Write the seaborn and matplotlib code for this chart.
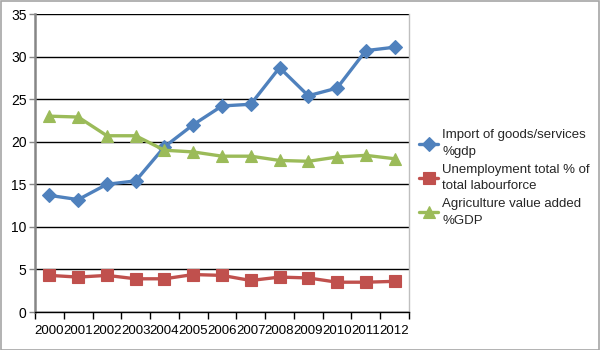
import matplotlib
matplotlib.use("Agg")
import matplotlib.pyplot as plt
import seaborn as sns
import pandas as pd
import numpy as np

years = ["2000", "2001", "2002", "2003", "2004", "2005", "2006", "2007",
         "2008", "2009", "2010", "2011", "2012"]
imports = [13.7, 13.2, 15.0, 15.4, 19.4, 22.0, 24.2, 24.4, 28.7, 25.4, 26.3, 30.7, 31.1]
unemployment = [4.3, 4.1, 4.3, 3.9, 3.9, 4.4, 4.3, 3.7, 4.1, 4.0, 3.5, 3.5, 3.6]
agriculture = [23.0, 22.9, 20.7, 20.7, 19.0, 18.8, 18.3, 18.3, 17.8, 17.7, 18.2, 18.4, 18.0]

series_names = ["Import of goods/services\n%gdp",
                "Unemployment total % of\ntotal labourforce",
                "Agriculture value added\n%GDP"]
colors = ["#4F81BD", "#C0504D", "#9BBB59"]
markers = ["D", "s", "^"]
msizes = [7, 8.5, 9]

sns.set_theme(style="white")
plt.rcParams['font.family'] = ['Liberation Sans', 'DejaVu Sans']

frames = []
for name, vals in zip(series_names, [imports, unemployment, agriculture]):
    frames.append(pd.DataFrame({"pos": np.arange(len(years)), "value": vals, "series": name}))
df = pd.concat(frames, ignore_index=True)

fig = plt.figure(figsize=(6, 3.5), dpi=100)
ax = fig.add_axes([35/600, 1 - 312/350, (409-35)/600, (312-14)/350])

for name, c, m, ms in zip(series_names, colors, markers, msizes):
    sub = df[df["series"] == name]
    sns.lineplot(data=sub, x="pos", y="value", ax=ax, color=c, linewidth=2.4,
                 marker=m, markersize=ms, markeredgecolor=c, markeredgewidth=0.8,
                 label=name, zorder=3)

ax.set_xlim(-0.5, len(years) - 0.5)
ax.set_ylim(0, 35)
ax.set_yticks(np.arange(0, 36, 5))
ax.yaxis.grid(True, color="black", linewidth=1.0)
ax.set_axisbelow(True)
ax.set_xlabel("")
ax.set_ylabel("")

ax.set_xticks(np.arange(-0.5, len(years), 1.0))
ax.set_xticklabels([])
ax.set_xticks(np.arange(len(years)), minor=True)
ax.set_xticklabels(years, minor=True)
ax.tick_params(axis="x", which="major", direction="out", length=5, width=1, color="black", bottom=True)
ax.tick_params(axis="x", which="minor", length=0, labelsize=9.5, colors="black", pad=9, bottom=True)
ax.tick_params(axis="y", direction="out", length=4, width=1, color="#868686", labelsize=10,
               labelcolor="black", left=True, pad=2)

ax.spines["left"].set_color("#868686")
ax.spines["left"].set_linewidth(1.8)
ax.spines["bottom"].set_color("black")
ax.spines["bottom"].set_linewidth(1.0)
ax.spines["top"].set_visible(False)
ax.spines["right"].set_color("#BFBFBF")
ax.spines["right"].set_linewidth(1.0)

leg = ax.legend(loc="upper left", bbox_to_anchor=(414/600, 1 - 124/350),
                bbox_transform=fig.transFigure, frameon=False, fontsize=9.5,
                handlelength=1.4, handletextpad=0.35, labelspacing=0.4, borderaxespad=0)
for t in leg.get_texts():
    t.set_linespacing(1.55)

fig.patches.append(plt.Rectangle((0.001, 0.001), 0.997, 0.997, transform=fig.transFigure,
                                 fill=False, edgecolor="#A6A6A6", linewidth=1.2))

fig.savefig("out.png", dpi=100, facecolor="white")
